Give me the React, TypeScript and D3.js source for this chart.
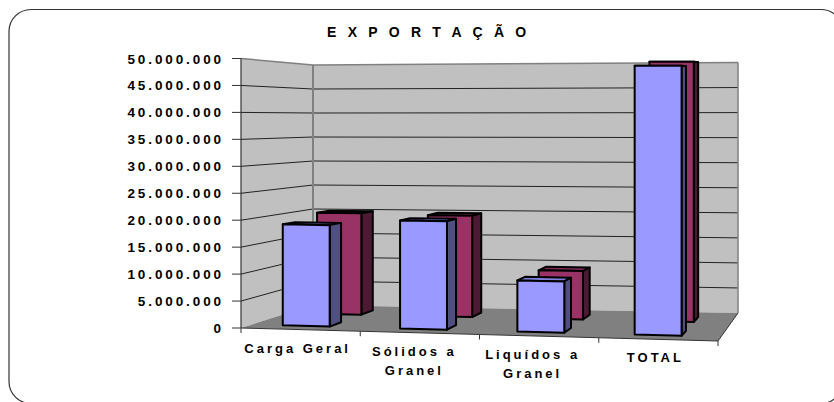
import React from "react";
import * as d3 from "d3";

const titleText = "E X P O R T A Ç Ã O";
const categories = ["Carga Geral", "Sólidos a Granel", "Liquídos a Granel", "TOTAL"];
const categoryLines = [["Carga Geral"], ["Sólidos a", "Granel"], ["Liquídos a", "Granel"], ["TOTAL"]];
const frontSeries = [19000000, 20100000, 9400000, 49000000];
const backSeries = [20100000, 19900000, 9400000, 50000000];
const yTicks = [0, 5000000, 10000000, 15000000, 20000000, 25000000, 30000000, 35000000, 40000000, 45000000, 50000000];

const W = 834, H = 402;
const FONT = "'Liberation Sans', Arial, sans-serif";
const labelNudge = [-3, -5.5, -6.5, -3];

// Perspective frame of the 3-D plot: u = category axis, d = depth (0 front, 1 back)
const xFront = d3.scaleLinear().domain([0, 4]).range([241, 718]);
const xBack = d3.scaleLinear().domain([0, 4]).range([313, 738]);
const yFloorFront = d3.scaleLinear().domain([0, 4]).range([328, 341]);
const yFloorBack = d3.scaleLinear().domain([0, 4]).range([305, 313]);
const yTopFront = d3.scaleLinear().domain([0, 4]).range([58.5, 60]);
const yTopBack = d3.scaleLinear().domain([0, 4]).range([65, 62.5]);
const vMax = 50000000;
const band = d3.scaleBand<string>().domain(categories).range([0, 4]).paddingInner(0.6).paddingOuter(0.3).align(0.44);

function project(u: number, d: number, v: number): [number, number] {
  const x = xFront(u) + (xBack(u) - xFront(u)) * d;
  const bottom = yFloorFront(u) + (yFloorBack(u) - yFloorFront(u)) * d;
  const top = yTopFront(u) + (yTopBack(u) - yTopFront(u)) * d;
  return [x, bottom + (top - bottom) * (v / vMax)];
}
const pts = (p: [number, number][]) => p.map((q) => q.join(",")).join(" ");

const C = {
  wall: "#C0C0C0", floor: "#808080", edge: "#808080",
  blue: "#9999FF", blueSide: "#4F4F80", blueTop: "#8080DD",
  red: "#993366", redSide: "#4D1A33", redTop: "#802B55",
};

function Bar({ cat, value, d0, d1, face, side, top }: { cat: string; value: number; d0: number; d1: number; face: string; side: string; top: string }) {
  const u0 = band(cat)!;
  const u1 = u0 + band.bandwidth();
  const common = { stroke: "#000", strokeWidth: 2, strokeLinejoin: "round" as const };
  return (
    <g>
      <polygon points={pts([project(u0, d0, value), project(u0, d1, value), project(u1, d1, value), project(u1, d0, value)])} fill={top} {...common} />
      <polygon points={pts([project(u1, d0, 0), project(u1, d1, 0), project(u1, d1, value), project(u1, d0, value)])} fill={side} {...common} />
      <polygon points={pts([project(u0, d0, 0), project(u1, d0, 0), project(u1, d0, value), project(u0, d0, value)])} fill={face} {...common} />
    </g>
  );
}

export default function App() {
  const fmt = (v: number) => d3.format(",")(v).replace(/,/g, ".");
  return (
    <svg width={W} height={H} viewBox={`0 0 ${W} ${H}`} style={{ position: "absolute", left: 0, top: 0 }} fontFamily={FONT}>
      <rect x={0} y={0} width={W} height={H} fill="#fff" />
      <rect x={9} y={9.5} width={834} height={394} rx={22} ry={22} fill="#fff" stroke="#333" strokeWidth={1.2} />
      <text x={428.5} y={37} textAnchor="middle" fontSize={14} fontWeight={700} letterSpacing={3.7} fill="#000">{titleText}</text>

      {/* walls and floor */}
      <polygon points={pts([project(0, 0, 0), project(0, 1, 0), project(0, 1, vMax), project(0, 0, vMax)])} fill={C.wall} />
      <polygon points={pts([project(0, 1, 0), project(4, 1, 0), project(4, 1, vMax), project(0, 1, vMax)])} fill={C.wall} />
      <polygon points={pts([project(0, 0, 0), project(4, 0, 0), project(4, 1, 0), project(0, 1, 0)])} fill={C.floor} />

      {/* gridlines */}
      {yTicks.map((t) => (
        <polyline key={t} points={pts(t === 0 ? [] : [project(0, 0, t), project(0, 1, t), project(4, 1, t)])} fill="none" stroke={t === vMax ? C.edge : "#222"} strokeWidth={t === vMax ? 1.5 : 1} />
      ))}
      <line x1={project(0, 1, 0)[0]} y1={project(0, 1, 0)[1]} x2={project(0, 1, vMax)[0]} y2={project(0, 1, vMax)[1]} stroke={C.edge} strokeWidth={2} />
      <line x1={project(4, 1, 0)[0]} y1={project(4, 1, 0)[1]} x2={project(4, 1, vMax)[0]} y2={project(4, 1, vMax)[1]} stroke={C.edge} strokeWidth={1.5} />
      <line x1={project(0, 0, 0)[0]} y1={project(0, 0, 0)[1]} x2={project(0, 0, vMax)[0]} y2={project(0, 0, vMax)[1]} stroke="#333" strokeWidth={1.2} />

      {/* floor outline */}
      <polyline points={pts([project(0, 0, 0), project(4, 0, 0), project(4, 1, 0)])} fill="none" stroke="#333" strokeWidth={1} />

      {/* bars */}
      {categories.map((c, i) => (
        <g key={c}>
          <Bar cat={c} value={backSeries[i]} d0={0.65} d1={0.83} face={C.red} side={C.redSide} top={C.redTop} />
          <Bar cat={c} value={frontSeries[i]} d0={0.15} d1={0.33} face={C.blue} side={C.blueSide} top={C.blueTop} />
        </g>
      ))}

      {/* value axis */}
      {yTicks.map((t) => {
        const [x, y] = project(0, 0, t);
        return (
          <g key={t}>
            <line x1={x - 9} x2={x} y1={y} y2={y} stroke="#333" strokeWidth={1} />
            <text x={x - 17} y={y + 5} textAnchor="end" fontSize={13.5} fontWeight={700} letterSpacing={2.9} fill="#000">{fmt(t)}</text>
          </g>
        );
      })}

      {/* category axis */}
      {d3.range(5).map((u) => {
        const [x, y] = project(u, 0, 0);
        return <line key={u} x1={x} x2={x} y1={y} y2={y + 5} stroke="#333" strokeWidth={1} />;
      })}
      {categoryLines.map((lines, i) => {
        const [x, y] = project(i + 0.5, 0, 0);
        return (
          <text key={i} textAnchor="middle" fontSize={13} fontWeight={700} letterSpacing={3} fill="#000">
            {lines.map((l, j) => (
              <tspan key={j} x={x + labelNudge[i]} y={y + 23 + j * 19}>{l}</tspan>
            ))}
          </text>
        );
      })}
    </svg>
  );
}
